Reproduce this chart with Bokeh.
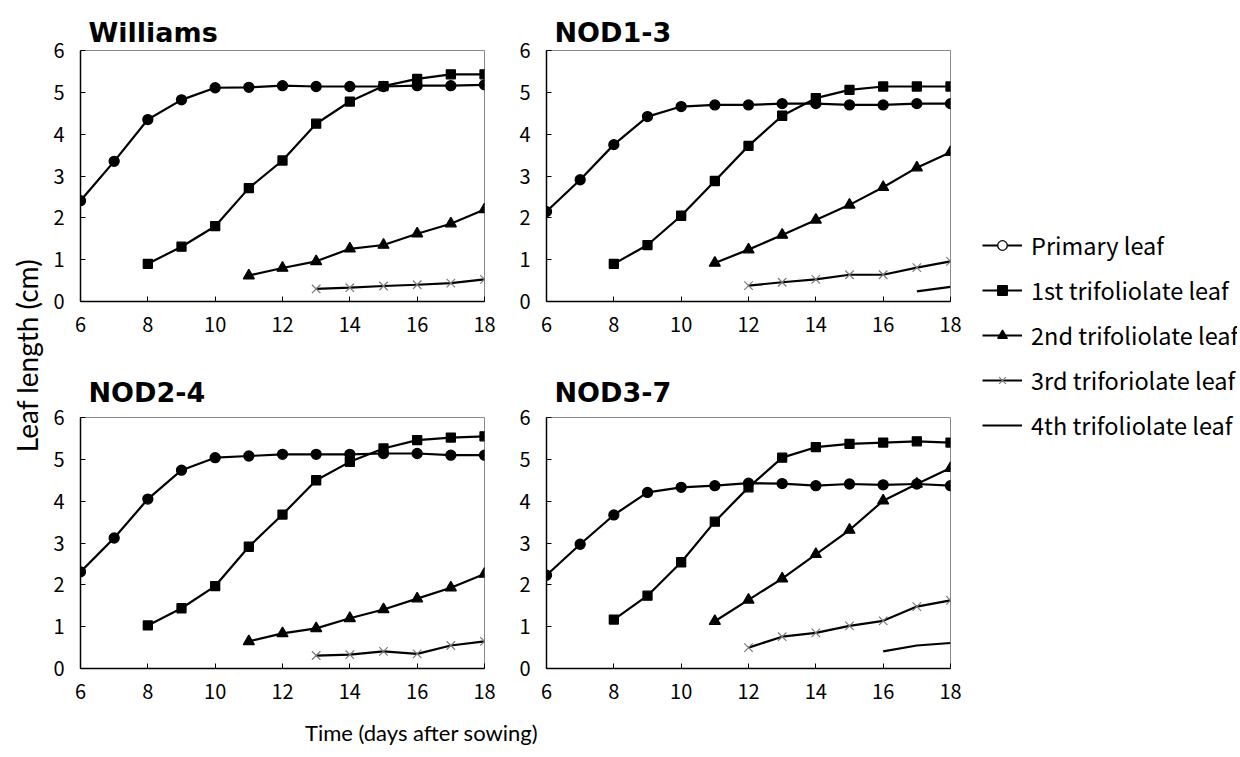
from bokeh.plotting import figure
from bokeh.layouts import row, column
from bokeh.models import Label, Legend, LegendItem, Range1d, FixedTicker, Title
from bokeh.embed import file_html
from bokeh.resources import INLINE
import math

# ---------------- data ----------------
panel_titles = ["Williams", "NOD1-3", "NOD2-4", "NOD3-7"]
legend_labels = ["Primary leaf", "1st trifoliolate leaf", "2nd trifoliolate leaf",
                 "3rd triforiolate leaf", "4th trifoliolate leaf"]
x_ticks = [6, 8, 10, 12, 14, 16, 18]
y_ticks = [0, 1, 2, 3, 4, 5, 6]

# first day (days after sowing) each leaf was measured, per panel
wil_start = [6, 8, 11, 13, None]
nod1_start = [6, 8, 11, 12, 17]
nod2_start = [6, 8, 11, 13, None]
nod3_start = [6, 8, 11, 12, 16]

wil_primary = [2.41, 3.35, 4.35, 4.82, 5.11, 5.12, 5.16, 5.14, 5.14, 5.14, 5.16, 5.16, 5.18]
wil_1st = [0.90, 1.31, 1.80, 2.71, 3.37, 4.25, 4.78, 5.15, 5.32, 5.43, 5.43]
wil_2nd = [0.62, 0.80, 0.96, 1.26, 1.35, 1.62, 1.86, 2.20]
wil_3rd = [0.30, 0.33, 0.37, 0.40, 0.44, 0.53]
wil_4th = []

nod1_primary = [2.15, 2.91, 3.75, 4.42, 4.66, 4.70, 4.70, 4.73, 4.73, 4.70, 4.70, 4.73, 4.73]
nod1_1st = [0.90, 1.35, 2.05, 2.88, 3.72, 4.44, 4.86, 5.06, 5.14, 5.14, 5.14]
nod1_2nd = [0.92, 1.24, 1.59, 1.95, 2.31, 2.73, 3.20, 3.57]
nod1_3rd = [0.38, 0.46, 0.53, 0.64, 0.64, 0.81, 0.96]
nod1_4th = [0.24, 0.35]

nod2_primary = [2.31, 3.12, 4.05, 4.74, 5.04, 5.08, 5.12, 5.12, 5.12, 5.14, 5.14, 5.10, 5.10]
nod2_1st = [1.03, 1.44, 1.97, 2.91, 3.68, 4.50, 4.94, 5.26, 5.46, 5.52, 5.55]
nod2_2nd = [0.65, 0.84, 0.96, 1.20, 1.41, 1.67, 1.93, 2.26]
nod2_3rd = [0.31, 0.33, 0.41, 0.35, 0.55, 0.65]
nod2_4th = []

nod3_primary = [2.23, 2.97, 3.67, 4.21, 4.33, 4.37, 4.43, 4.42, 4.37, 4.41, 4.39, 4.41, 4.37]
nod3_1st = [1.17, 1.74, 2.54, 3.51, 4.33, 5.04, 5.29, 5.37, 5.40, 5.43, 5.40]
nod3_2nd = [1.13, 1.64, 2.15, 2.73, 3.31, 4.01, 4.41, 4.79]
nod3_3rd = [0.50, 0.76, 0.85, 1.02, 1.14, 1.48, 1.63]
nod3_4th = [0.41, 0.55, 0.61]

panels = [
    (wil_start, [wil_primary, wil_1st, wil_2nd, wil_3rd, wil_4th]),
    (nod1_start, [nod1_primary, nod1_1st, nod1_2nd, nod1_3rd, nod1_4th]),
    (nod2_start, [nod2_primary, nod2_1st, nod2_2nd, nod2_3rd, nod2_4th]),
    (nod3_start, [nod3_primary, nod3_1st, nod3_2nd, nod3_3rd, nod3_4th]),
]

# ---------------- styles ----------------
TICK_FONT = "Noto Sans CJK JP"
LABEL_FONT = "Lato"
TITLE_FONT = "DejaVu Sans"
markers = ["circle", "square", "triangle", "x", None]
marker_sizes = [10, 9, 11, 12, None]


def add_series(p, xs, ys, k, legend_style=False):
    r_line = p.line(xs, ys, line_color="black", line_width=2.2)
    rs = [r_line]
    m = markers[k]
    if m is not None:
        if m == "x":
            r = p.scatter(xs, ys, marker="x", size=marker_sizes[k],
                          line_color="#7a7a7a", line_width=1.2)
        else:
            fill = "white" if (legend_style and k == 0) else "black"
            r = p.scatter(xs, ys, marker=m, size=marker_sizes[k],
                          fill_color=fill, line_color="black", line_width=1.3)
        rs.append(r)
    return rs


def make_panel(title, start, series, height, top, bottom, lift):
    p = figure(width=466, height=height, output_backend="svg", toolbar_location=None,
               x_range=Range1d(6, 18), y_range=Range1d(0, 6),
               min_border_left=31, min_border_right=31,
               min_border_top=top, min_border_bottom=bottom)
    p.grid.visible = False
    p.outline_line_color = "#8a8a8a"
    p.outline_line_width = 1
    p.xaxis.ticker = FixedTicker(ticks=x_ticks)
    p.yaxis.ticker = FixedTicker(ticks=y_ticks)
    for ax in (p.xaxis, p.yaxis):
        ax.axis_line_color = "black"
        ax.axis_line_width = 1.5
        ax.major_tick_in = 5
        ax.major_tick_out = 0
        ax.major_tick_line_color = "black"
        ax.major_tick_line_width = 1
        ax.minor_tick_line_color = None
        ax.major_label_text_font = TICK_FONT
        ax.major_label_text_font_size = "20px"
        ax.major_label_text_color = "black"
    p.xaxis.major_label_standoff = 15
    p.yaxis.major_label_standoff = 16
    for k, (s, ys) in enumerate(zip(start, series)):
        if s is None or len(ys) == 0:
            continue
        xs = list(range(s, s + len(ys)))
        add_series(p, xs, ys, k)
    p.title = None
    if lift:
        p.add_layout(Title(text=" ", text_font_size=f"{lift}px", standoff=0,
                           text_line_height=1.0), "above")
    p.add_layout(Title(text=title, align="left", offset=8, standoff=6,
                       text_font=TITLE_FONT, text_font_size="27px",
                       text_font_style="bold", text_color="black"), "above")
    return p


p1 = make_panel(panel_titles[0], *panels[0], height=358, top=50, bottom=57, lift=0)
p2 = make_panel(panel_titles[1], *panels[1], height=358, top=50, bottom=57, lift=0)
p3 = make_panel(panel_titles[2], *panels[2], height=353, top=59, bottom=43, lift=4)
p4 = make_panel(panel_titles[3], *panels[3], height=353, top=59, bottom=43, lift=4)


def blank(w, h):
    f = figure(width=w, height=h, output_backend="svg", toolbar_location=None,
               x_range=Range1d(0, 1), y_range=Range1d(0, 1), min_border=0)
    f.axis.visible = False
    f.grid.visible = False
    f.outline_line_color = None
    return f


ylab = blank(49, 748)
ylab.add_layout(Label(x=26 / 49, y=393 / 748, text="Leaf length (cm)", angle=math.pi / 2,
                      text_align="center", text_baseline="middle", text_font=LABEL_FONT,
                      text_font_size="28px", text_color="black"))

xlab = blank(932, 37)
xlab.add_layout(Label(x=372 / 932, y=16 / 37, text="Time (days after sowing)",
                      text_align="center", text_baseline="middle", text_font=LABEL_FONT,
                      text_font_size="22px", text_color="black"))

leg = blank(256, 748)
items = []
for k, lab in enumerate(legend_labels):
    rs = add_series(leg, [-10, -9], [-10, -9], k, legend_style=True)
    items.append(LegendItem(label=lab, renderers=rs))
legend = Legend(items=items, location=(1, 306), glyph_width=40, glyph_height=24,
                label_height=24, label_standoff=9, spacing=11, padding=0, margin=0,
                border_line_color=None, background_fill_alpha=0,
                label_text_font=TICK_FONT, label_text_font_size="23.5px",
                label_text_color="black")
leg.add_layout(legend)

layout = row(ylab, column(row(p1, p2), row(p3, p4), xlab), leg)

open("out.html", "w").write(file_html(layout, INLINE))
